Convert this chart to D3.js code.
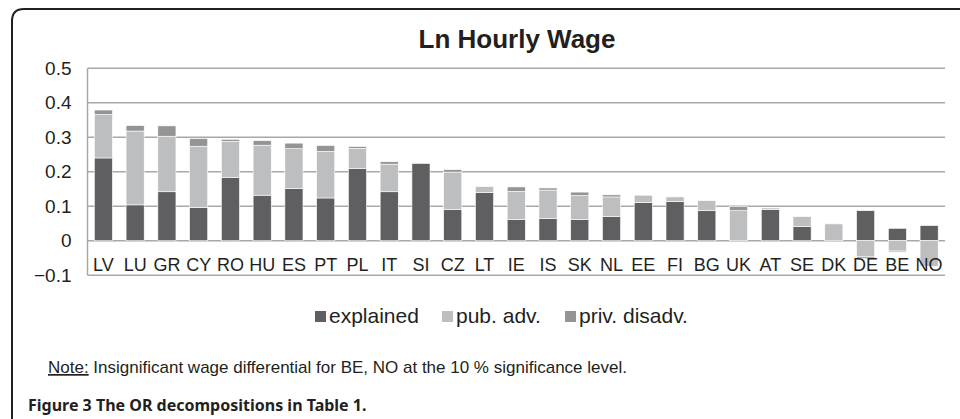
<!DOCTYPE html>
<html><head><meta charset="utf-8">
<script src="https://cdn.jsdelivr.net/npm/d3@7"></script>
<style>body{margin:0;background:#fff}svg{display:block}</style>
</head><body><svg id="c" width="960" height="419"></svg>
<script>
const categories = ["LV","LU","GR","CY","RO","HU","ES","PT","PL","IT","SI","CZ","LT","IE","IS","SK","NL","EE","FI","BG","UK","AT","SE","DK","DE","BE","NO"];
const explained = [0.240,0.104,0.142,0.096,0.184,0.132,0.151,0.124,0.210,0.142,0.224,0.090,0.140,0.061,0.065,0.061,0.070,0.111,0.114,0.087,0.000,0.091,0.041,0.000,0.087,0.036,0.044];
const pubAdv = [0.126,0.214,0.161,0.178,0.104,0.145,0.116,0.135,0.058,0.080,0.000,0.109,0.017,0.082,0.082,0.070,0.057,0.021,0.013,0.029,0.087,0.004,0.029,0.049,-0.047,-0.030,-0.074];
const privDisadv = [0.013,0.016,0.030,0.022,0.006,0.013,0.016,0.017,0.005,0.007,0.000,0.007,0.000,0.013,0.006,0.010,0.006,0.000,0.000,0.000,0.012,0.000,0.000,0.002,-0.005,-0.003,0.000];
const yTicks = [-0.1,0,0.1,0.2,0.3,0.4,0.5];
const seriesNames = ["explained","pub. adv.","priv. disadv."];
const colors = ["#5f5f61","#bdbec0","#949495"];

const svg = d3.select("#c");
const ink = "#231f20";
const font = "'Liberation Sans', Arial, sans-serif";

// frame
svg.append("path").attr("d","M12,419 V21 Q12,9 24,9 H960")
  .attr("fill","none").attr("stroke",ink).attr("stroke-width",2);

// title
svg.append("text").attr("x",517).attr("y",48).attr("text-anchor","middle")
  .attr("font-family",font).attr("font-weight","bold").attr("font-size",26)
  .attr("fill",ink).text("Ln Hourly Wage");

const x = d3.scaleBand().domain(categories).range([87.5,945]).paddingInner(0.43).paddingOuter(0.215);
const y = d3.scaleLinear().domain([-0.1,0.5]).range([275.2,68.3]);

// gridlines
svg.append("g").selectAll("line").data(yTicks).join("line")
  .attr("x1",87.5).attr("x2",945).attr("y1",d=>y(d)).attr("y2",d=>y(d))
  .attr("stroke","#a7a8aa").attr("stroke-width",1.5);
svg.append("line").attr("x1",87.5).attr("x2",87.5).attr("y1",y(0.5)).attr("y2",y(-0.1))
  .attr("stroke","#a7a8aa").attr("stroke-width",1.5);

// y labels
const yAxis = d3.axisLeft(y).tickValues(yTicks).tickSize(0).tickPadding(16)
  .tickFormat(d=>d===0?"0":d3.format(".1f")(d));
const ya = svg.append("g").attr("transform","translate(87.5,0)").call(yAxis);
ya.select(".domain").remove();
ya.selectAll("text").attr("font-family",font).attr("font-size",19).attr("fill",ink);

// stacked bars
const table = categories.map((c,i)=>({cat:c,"explained":explained[i],"pub. adv.":pubAdv[i],"priv. disadv.":privDisadv[i]}));
const stacked = d3.stack().keys(seriesNames).offset(d3.stackOffsetDiverging)(table);
svg.append("g").selectAll("g").data(stacked).join("g")
  .attr("fill",(d,i)=>colors[i])
  .selectAll("rect").data(d=>d).join("rect")
  .attr("x",d=>x(d.data.cat)).attr("width",x.bandwidth())
  .attr("y",d=>y(Math.max(d[0],d[1]))).attr("height",d=>Math.abs(y(d[0])-y(d[1])))
  .attr("stroke","#ffffff").attr("stroke-width",0.6);

// category labels
const xAxis = d3.axisBottom(x).tickSize(0).tickPadding(0);
const xa = svg.append("g").attr("transform","translate(0,"+(y(-0.1)-17)+")").call(xAxis);
xa.select(".domain").remove();
xa.selectAll("text").attr("font-family",font).attr("font-size",18).attr("fill",ink).attr("dy","0.71em");

// legend
const legX = [315,442,565];
const lg = svg.append("g").selectAll("g").data(seriesNames).join("g")
  .attr("transform",(d,i)=>"translate("+legX[i]+",311)");
lg.append("rect").attr("width",11).attr("height",11).attr("fill",(d,i)=>colors[i]);
lg.append("text").attr("x",14).attr("y",11.5).attr("font-family",font).attr("font-size",21)
  .attr("fill",ink).text(d=>d);

// note
const note = svg.append("text").attr("x",48).attr("y",373).attr("font-family",font)
  .attr("font-size",17).attr("fill",ink);
note.append("tspan").attr("text-decoration","underline").text("Note:");
note.append("tspan").text(" Insignificant wage differential for BE, NO at the 10 % significance level.");

// caption
svg.append("text").attr("x",28).attr("y",411).attr("font-family","'Noto Sans', 'Open Sans', sans-serif")
  .attr("font-weight","bold").attr("font-size",16).attr("fill",ink)
  .text("Figure 3 The OR decompositions in Table 1.");
</script></body></html>
